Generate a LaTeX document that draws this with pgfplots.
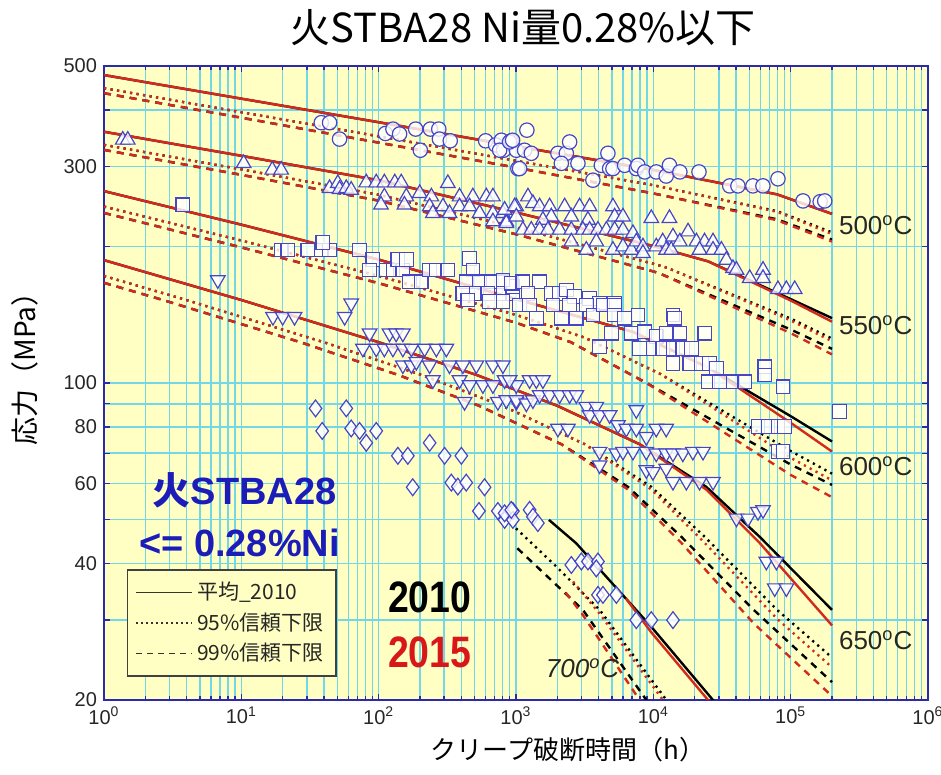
\documentclass[border=0pt]{standalone}
\usepackage{fontspec}
\setmainfont{Liberation Sans}
\newfontfamily\jp{Noto Sans CJK JP}
\usepackage{graphicx}
\usepackage{pgfplots}
\pgfplotsset{compat=1.18}
\definecolor{bgy}{HTML}{FFFFC4}
\definecolor{gridc}{HTML}{72D8E8}
\definecolor{axblue}{HTML}{2A2AB0}
\definecolor{mk}{HTML}{4646C8}
\definecolor{redl}{HTML}{D42A1E}
\definecolor{txtblue}{HTML}{1C1CB8}
\definecolor{red15}{HTML}{D81818}
\pgfplotsset{
  mean/.style={line width=1.2pt, no marks},
  dot/.style={line width=1.2pt, dash pattern=on 1.1pt off 2.2pt, no marks},
  dsh/.style={line width=1.2pt, dash pattern=on 3.5pt off 3pt, no marks},
  mkbase/.style={only marks, mark options={draw=mk, fill=white, fill opacity=0.8, line width=0.6pt}},
}
\begin{document}
\begin{tikzpicture}
\begin{axis}[
  name=ax, at={(0,0)}, anchor=south west,
  scale only axis, width=412pt, height=317pt,
  xmode=log, ymode=log,
  xmin=1, xmax=1e6, ymin=20, ymax=500,
  axis background/.style={fill=bgy},
  xtick={1,10,100,1000,10000,100000,1000000},
  xticklabels={10\textsuperscript{0},10\textsuperscript{1},10\textsuperscript{2},10\textsuperscript{3},10\textsuperscript{4},10\textsuperscript{5},10\textsuperscript{6}},
  minor xtick={2,3,4,5,6,7,8,9,20,30,40,50,60,70,80,90,200,300,400,500,600,700,800,900,2000,3000,4000,5000,6000,7000,8000,9000,20000,30000,40000,50000,60000,70000,80000,90000,200000,300000,400000,500000,600000,700000,800000,900000},
  ytick={20,30,40,50,60,70,80,90,100,200,300,400,500},
  yticklabels={20,,40,,60,,80,,100,,300,,500},
  xmajorgrids, xminorgrids, ymajorgrids,
  major grid style={gridc, line width=0.8pt},
  minor grid style={gridc, line width=0.7pt},
  axis line style={axblue, line width=1.1pt},
  tick style={axblue, line width=0.7pt},
  major tick length=3pt, minor tick length=2.2pt,
  tick align=inside,
  ticklabel style={font=\fontsize{10}{12}\selectfont, text=black!85},
  clip mode=individual,
  legend style={at={(0.0275,0.0368)}, anchor=south west, fill=bgy, draw=black!75, line width=0.8pt,
    font=\jp\fontsize{10.5}{12}\selectfont, text=black!85, row sep=1pt, inner xsep=4pt, inner ysep=4pt},
  legend cell align=left,
  legend image code/.code={\draw[#1] (0pt,0pt) -- (28pt,0pt);},
]
\addlegendimage{black!80, line width=0.8pt}
\addlegendentry{平均\_2010}
\addlegendimage{black!80, line width=0.8pt, dash pattern=on 1pt off 1.5pt}
\addlegendentry{95\%信頼下限}
\addlegendimage{black!80, line width=0.8pt, dash pattern=on 3pt off 2.5pt}
\addlegendentry{99\%信頼下限}

% ---------- 500 C ----------
\addplot[mean, black] coordinates {(1,477.5)(10,423.6)(100,375.8)(1000,332.7)(10000,295.1)(79433,260.6)(200000,236.0)};
\addplot[dot, black] coordinates {(1,446.7)(10,395.4)(100,349.9)(1000,309.0)(10000,272.9)(79433,239.3)(200000,214.8)};
\addplot[dsh, black] coordinates {(1,435.5)(10,384.6)(100,338.8)(1000,298.5)(10000,261.8)(79433,229.6)(200000,207.0)};
\addplot[mean, redl] coordinates {(1,477.5)(10,423.6)(100,375.8)(1000,332.7)(10000,295.1)(79433,260.6)(200000,236.0)};
\addplot[dot, redl] coordinates {(1,446.7)(10,395.4)(100,349.9)(1000,309.0)(10000,272.9)(79433,238.5)(200000,213.0)};
\addplot[dsh, redl] coordinates {(1,435.5)(10,384.6)(100,338.8)(1000,298.5)(10000,261.8)(79433,228.5)(200000,205.0)};

% ---------- 550 C ----------
\addplot[mean, black] coordinates {(1,358.1)(10,316.9)(100,279.9)(1000,237.7)(10000,200.4)(25119,185.4)(100000,153.1)(200000,139.0)};
\addplot[dot, black] coordinates {(1,335.0)(10,295.8)(100,260.0)(1000,220.3)(10000,183.2)(12589,179.5)(100000,138.7)(200000,125.3)};
\addplot[dsh, black] coordinates {(1,326.6)(10,287.7)(100,252.4)(1000,212.8)(10000,176.2)(11220,174.2)(100000,131.2)(200000,118.9)};
\addplot[mean, redl] coordinates {(1,358.1)(10,316.9)(100,279.9)(1000,237.7)(10000,200.4)(25119,185.4)(100000,152.0)(200000,136.5)};
\addplot[dot, redl] coordinates {(1,335.0)(10,295.8)(100,260.0)(1000,220.3)(10000,183.2)(12589,179.5)(100000,137.4)(200000,123.6)};
\addplot[dsh, redl] coordinates {(1,326.6)(10,287.7)(100,252.4)(1000,212.8)(10000,176.2)(11220,174.2)(100000,128.8)(200000,115.6)};

% ---------- 600 C ----------
\addplot[mean, black] coordinates {(1,264.9)(10,223.4)(100,187.1)(1000,153.1)(7079,129.7)(25119,108.1)(100000,84.5)(200000,74.3)};
\addplot[dot, black] coordinates {(1,244.9)(10,206.1)(100,172.2)(1000,141.3)(3162,125.9)(11220,104.7)(100000,70.8)(200000,63.1)};
\addplot[dsh, black] coordinates {(1,237.1)(10,199.1)(100,166.0)(1000,135.8)(2512,123.0)(8913,100.0)(100000,66.1)(200000,59.6)};
\addplot[mean, redl] coordinates {(1,264.9)(10,223.4)(100,187.1)(1000,153.1)(7079,129.7)(25119,108.1)(100000,81.7)(200000,70.6)};
\addplot[dot, redl] coordinates {(1,244.9)(10,206.1)(100,172.2)(1000,141.3)(3162,125.9)(11220,104.7)(100000,68.4)(200000,61.0)};
\addplot[dsh, redl] coordinates {(1,237.1)(10,199.1)(100,166.0)(1000,135.8)(2512,123.0)(8913,100.0)(100000,62.7)(200000,56.0)};

% ---------- 650 C ----------
\addplot[mean, black] coordinates {(1,186.6)(10,152.4)(100,123.0)(514,104.2)(1995,89.1)(7943,73.3)(24322,59.0)(59429,45.8)(200000,31.6)};
\addplot[dot, black] coordinates {(1,172.2)(3.98,152.4)(39.8,123.0)(204.6,104.2)(794,89.1)(3162,73.3)(9683,59.0)(23659,45.8)(79616,31.6)(200000,24.8)};
\addplot[dsh, black] coordinates {(1,166.3)(2.69,152.4)(26.9,123.0)(138.4,104.2)(537,89.1)(2138,73.3)(6546,59.0)(15996,45.8)(53827,31.6)(200000,21.9)};
\addplot[mean, redl] coordinates {(1,186.6)(10,152.4)(100,123.0)(514,104.2)(1995,89.1)(7943,73.3)(24322,58.2)(59429,44.4)(200000,29.2)};
\addplot[dot, redl] coordinates {(1,172.2)(3.98,152.4)(39.8,123.0)(204.6,104.2)(794,89.1)(3162,73.3)(9683,58.2)(23659,44.4)(79616,30.2)(200000,23.6)};
\addplot[dsh, redl] coordinates {(1,166.3)(2.69,152.4)(26.9,123.0)(138.4,104.2)(537,89.1)(2138,73.3)(6546,58.2)(15996,44.4)(53827,29.5)(200000,20.4)};

% ---------- 700 C ----------
\addplot[mean, black] coordinates {(1738,49.9)(2748,44.3)(9661,29.0)(27164,20.0)(30903,19.05)};
\addplot[dot, black] coordinates {(1000,47.8)(1963,39.4)(4064,31.6)(12445,20.0)(14125,19.05)};
\addplot[dsh, black] coordinates {(1023,43.2)(3069,31.6)(8892,20.0)(10000,19.05)};
\addplot[mean, redl] coordinates {(6310,33.5)(9661,28.2)(25003,20.0)(28840,19.0)};
\addplot[dot, redl] coordinates {(2600,36.5)(4064,31.0)(11749,20.0)(13183,19.05)};
\addplot[dsh, redl] coordinates {(2300,34.5)(3069,30.8)(7943,20.0)(8913,19.05)};

% ---------- data: 500 C circles ----------
\addplot[mkbase, mark=*, mark size=3.6pt] coordinates {
(38.2,375)(43.9,375)(51.9,345)(112,355)(127,363)(142,354)(186,363)(201,326)(238,363)(274,363)(277,345)(332,342)
(601,342)(710,335)(782,343)(812,326)(924,342)(1005,326)(1032,297)(760,326)(898,340)(945,343)(1155,326)(1062,297)
(1200,361)(1292,321)(2018,321)(2324,321)(2457,340)(2138,305)(2825,305)(3631,280)(4179,302)(4669,321)(4805,297)
(5080,297)(6180,302)(7516,297)(7724,302)(8650,292)(10500,292)(12400,286)(13100,302)(15600,292)(21500,292)
(36000,272)(41300,272)(53100,272)(62800,272)(80800,282)(123000,252)(164000,251)(177000,252)};

% ---------- data: 550 C triangles ----------
\addplot[mkbase, mark=triangle*, mark size=4.2pt] coordinates {
(1.37,343.5)(1.49,343.5)(10.4,305)(16.8,295)(19.5,295)
(43.9,268.7)(50.4,275.6)(51.9,267.4)(58.1,268.7)(63.1,266.4)
(81.2,276.5)(96,276.5)(110,276.5)(131,276.5)(146,276.5)
(110,257.5)(104,247)(159,257.5)(154,247)
(199,262)(242,257.5)(235,244.8)(248,236.7)
(319,275.6)(294,244.8)(328,236.7)(388,257.5)(388,244.8)
(485,257.5)(608,257.5)(679,257.5)
(459,244.8)(543,236.7)(679,236.7)(803,236.7)(850,226.9)(1005,244.8)(679,226.9)
(826,240.7)(850,225)(977,244.8)(1005,232.6)(1222,257.5)(1328,249)(1122,217.5)(1292,217.5)
(1486,244.8)(1757,244.8)(1807,232.6)(1570,228.8)(1486,217.5)(1708,217.5)(2078,217.5)
(2261,244.8)(2529,232.6)(2905,244.8)(3436,244.8)(3341,228.8)(2529,217.5)(2529,204.9)
(3070,217.5)(3436,217.5)(3949,217.5)(3843,204.9)(3251,196.5)
(5079,244.8)(5226,232.6)(6010,232.6)
(4549,217.5)(5226,217.5)(6010,217.5)(5079,196.5)(6010,199.8)(6915,196.5)
(7109,213.8)(7520,204.9)(8400,199.8)(8400,193.2)
(9667,230.8)(13100,230.8)
(10500,199.8)(11700,204.9)(12400,196.5)(13900,210.1)(13500,196.5)(15600,204.9)
(17900,215.6)(20600,204.9)(23600,204.9)(27200,204.9)(21700,196.5)(27200,196.5)(31300,196.5)
(34000,186.7)(38000,179)(40300,177.5)
(50300,170.2)(62900,177.5)(62900,170.2)
(80800,160.9)(93000,160.9)(107000,160.9)};

% ---------- data: 600 C squares ----------
\addplot[mkbase, mark=square*, mark size=3.4pt] coordinates {
(3.75,247)(19.5,196.5)(21.8,196.5)(30.5,196.5)(38.2,196.5)(43.9,196.5)(39.2,203.9)
(72.6,196.5)(90.7,187.4)(85.9,177.5)
(114,177.5)(127,177.5)(150,177.5)(138,187.4)(159,187.4)
(168,167.2)(204,167.2)(235,177.5)(263,177.5)(319,177.5)
(459,188.3)(486,177.5)(434,167.2)(543,167.2)(661,167.2)(803,167.2)(410,157.6)(514,157.6)(624,157.6)(803,157.6)(949,157.6)(446,152.4)(642,151.1)(803,151.1)(949,163.1)
(803,168.7)(924,165.9)(1122,167.2)(1486,167.2)(1222,157.6)(1807,157.6)(2078,157.6)(2324,160.3)(2672,155)(3436,153.7)(4064,149.9)(5226,149.9)(13900,141.2)
(1062,148.6)(1256,148.6)(1406,138.9)(1857,148.6)(2138,138.9)(2455,148.6)(2748,138.9)(3251,148.6)(3632,141.2)(4297,148.6)(5226,148.6)(5226,141.2)(6180,138.9)(7724,141.2)(14300,138.9)(23700,128.7)
(4943,128.7)(6915,128.7)(8650,129.7)(10500,126.5)(12400,128.7)(15600,128.7)(4064,120.2)(7943,119.2)(9930,119.2)(11700,119.2)(13900,119.2)(16400,119.2)(18900,119.2)(13900,110.5)(18400,110.5)(22400,110.5)(25700,110.5)(28800,107.8)
(25000,100.6)(30400,100.6)(38000,100.6)(46300,100.6)
(64700,108.6)(64700,104.1)(87900,98.1)
(57800,80.1)(68400,80.1)(80800,80.1)(90400,80.1)
(80800,70.6)(87900,70.6)
(227000,86.5)};

% ---------- data: 650 C inverted triangles ----------
\addplot[only marks, mark=triangle*, mark size=4.2pt, mark options={rotate=180, draw=mk, fill=white, fill opacity=0.8, line width=0.6pt}] coordinates {
(6.74,168.7)(63.1,149.9)(56.5,140)(17,140)(20,140)(24.4,140)
(85.9,128.7)(120,128.7)(134,128.7)(150,128.7)
(76.7,119.2)(96,119.2)(110,119.2)(127,119.2)(150,119.2)(173,119.2)(216,119.2)(263,119.2)(311,119.2)
(150,109.5)(173,109.5)(188,111.4)(235,109.5)(328,109.5)(410,109.5)(514,109.5)(679,109.5)(803,109.5)
(248,101.5)(388,101.5)(459,99)(574,99)(679,99)(826,101.5)(1005,99)
(422,90.9)(738,90.9)(1005,90.9)
(898,101.5)(1256,101.5)(1406,101.5)(1570,101.5)
(850,91.7)(1005,91.7)(1189,90.2)(1328,91.7)(1486,94.1)(1757,94.1)(2078,94.1)(2455,94.1)(2748,94.1)
(2018,79.4)(2388,79.4)(3251,88.7)(3843,88.7)(3436,85)(4064,85)(4805,85)(5524,80.8)(6353,79.4)(7516,79.4)(7516,87.2)(8892,76.1)(10500,79.4)(12400,79.4)
(4064,70.6)(5379,70)(6010,70.6)(7104,70.6)(8892,70.6)(10500,70)(12400,70)(13900,70)(16400,70)(19400,70.6)(23000,70.6)
(4064,65.9)(8892,64.3)(9930,63.7)(12400,64.8)
(13900,60.6)(17400,60.6)(21700,60.6)(27200,60.6)
(40300,50.3)(48900,50.3)(57800,52)(62900,52.5)
(66500,40.4)(78700,40.4)
(76500,35.3)(93000,35.3)};

% ---------- data: 700 C diamonds ----------
\addplot[mkbase, mark=diamond*, mark size=4.2pt] coordinates {
(34.7,87.9)(58.1,87.9)(38.8,78.4)(63.1,79.4)(72.6,78.4)(96,78.4)(81.2,73.8)(235,73.8)
(138,69.1)(163,69.1)(302,69.1)(400,69.1)(177,58.9)(338,60.3)(377,59.1)(434,60.3)(590,58.9)
(537,52.2)(738,52.2)(826,49.9)(949,52.2)(949,49.9)
(826,51.6)(924,52.5)(1256,52.5)(1328,50.7)(1443,49.1)
(2529,39.7)(2990,40.4)(3341,40.4)(3951,40.4)(3843,39)
(3951,34.1)(4297,34.1)(5379,34.1)
(7516,30)(9667,30)(13900,30)};

% ---------- labels inside ----------
\node[font=\fontsize{13}{14}\selectfont, text=black!85] at (axis cs:4.16e5,223) {500\textsuperscript{o}C};
\node[font=\fontsize{13}{14}\selectfont, text=black!85] at (axis cs:4.16e5,134) {550\textsuperscript{o}C};
\node[font=\fontsize{13}{14}\selectfont, text=black!85] at (axis cs:4.16e5,65.6) {600\textsuperscript{o}C};
\node[font=\fontsize{13}{14}\selectfont, text=black!85] at (axis cs:4.16e5,27.1) {650\textsuperscript{o}C};
\node[font=\fontsize{13}{14}\selectfont\itshape, text=black!85] at (axis cs:3055,23.5) {700\textsuperscript{o}C};
\node[font=\fontsize{19}{20}\selectfont\bfseries, text=txtblue] at (axis cs:10.6,58.1) {{\jp\bfseries 火}STBA28};
\node[font=\fontsize{19}{20}\selectfont\bfseries, text=txtblue] at (axis cs:9.7,44.4) {<= 0.28\%Ni};
\node[text=black] at (axis cs:235,33.6) {\scalebox{0.85}[1]{\fontsize{22}{22}\selectfont\bfseries 2010}};
\node[text=red15] at (axis cs:235,25.5) {\scalebox{0.85}[1]{\fontsize{22}{22}\selectfont\bfseries 2015}};
\end{axis}
\node[font=\jp\fontsize{20}{22}\selectfont] at (209.5pt,336pt) {火STBA28 Ni量0.28\%以下};
\node[font=\jp\fontsize{13}{14}\selectfont] at (232pt,-25pt) {クリープ破断時間（h）};
\node[font=\jp\fontsize{14}{15}\selectfont, rotate=90] at (-39.5pt,169pt) {応力（MPa）};
\pgfresetboundingbox
\useasboundingbox (-52pt,-37.5pt) rectangle (418.5pt,350pt);
\end{tikzpicture}
\end{document}
